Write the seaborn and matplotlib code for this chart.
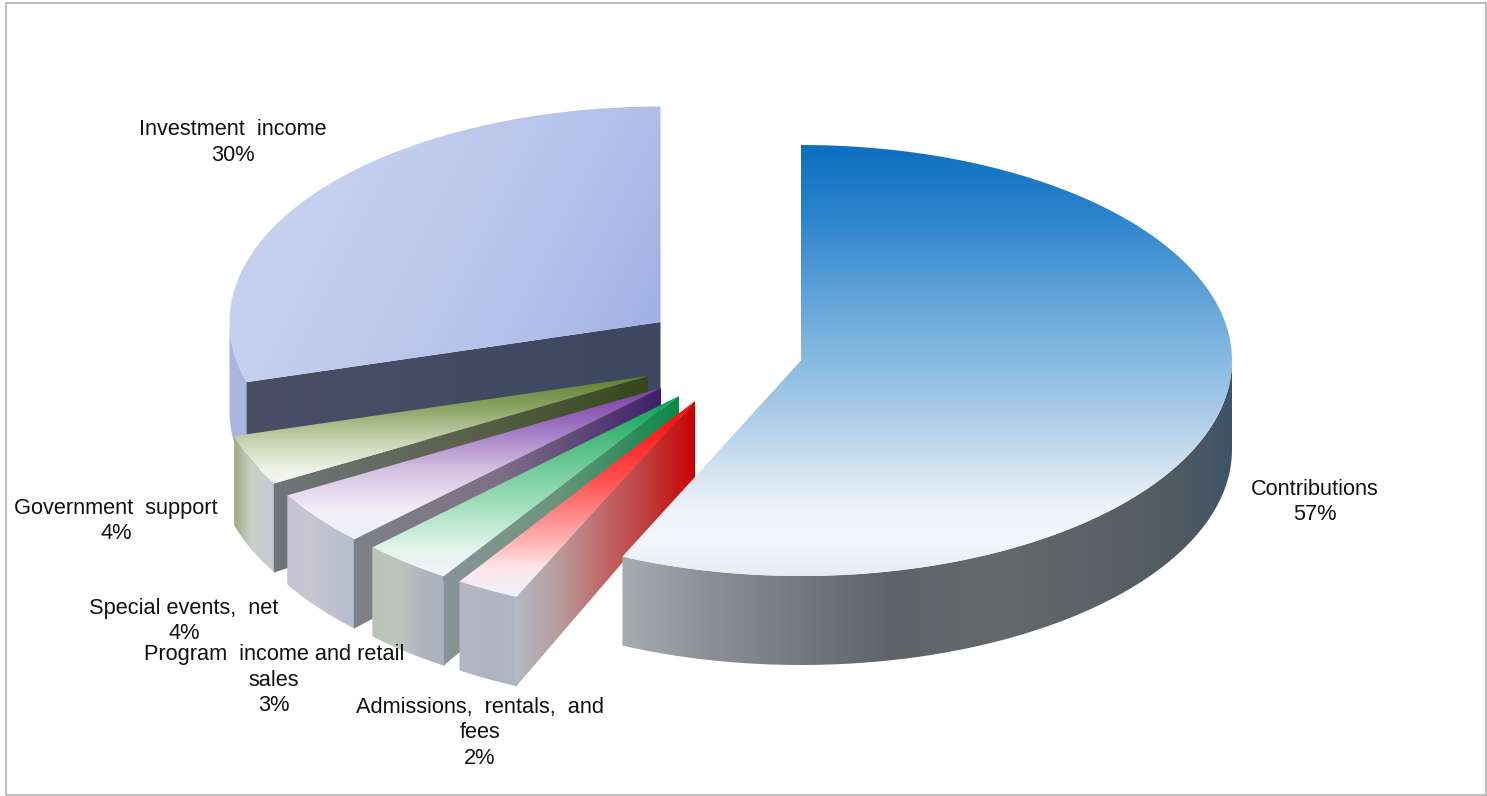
import numpy as np
import matplotlib
matplotlib.use("Agg")
import matplotlib.pyplot as plt
from matplotlib.path import Path
from matplotlib.patches import PathPatch, Rectangle
import seaborn as sns

categories = ["Contributions", "Admissions,  rentals,  and\nfees", "Program  income and retail\nsales",
              "Special events,  net", "Government  support", "Investment  income"]
shares = [56.8, 2.4, 3.4, 4.1, 3.8, 29.5]
shown_percent = [57, 2, 3, 4, 4, 30]

sns.set_theme(style="white")
plt.rcParams['font.family'] = ['Liberation Sans', 'DejaVu Sans']

W, H = 1487, 796
fig = plt.figure(figsize=(W / 100, H / 100), dpi=100)
ax = fig.add_axes([0, 0, 1, 1])

RX, RY = 431.0, 215.5
DEPTH, APEX_DEPTH = 89.0, 77.0

STYLE = {
    "Contributions": dict(
        centre=(801, 360.5),
        top=([145, 220, 300, 350, 420, 470, 510, 545, 576],
             ["#0B6FC0", "#2E86CC", "#62A5DA", "#82B7E0", "#AECEE9", "#D3E3F1", "#EEF3F8", "#F4F6FA", "#E6EBF6"]),
        side=([624, 700, 780, 890, 1000, 1100, 1180, 1232],
              ["#A6ABB0", "#8E9298", "#7A7D82", "#5F6468", "#66686B", "#5B6265", "#4F5A60", "#3E5468"]),
        cut=None, label=(1315, 502)),
    "Admissions,  rentals,  and\nfees": dict(
        centre=(695, 401),
        top=([401, 480, 540, 570, 597], ["#FF0000", "#FF5050", "#FFB0B0", "#FDE8EC", "#EEF0FA"]),
        side=([458, 490, 515], ["#B3B8C4", "#AEB4C0", "#B0B7C4"]),
        cut=([515, 560, 610, 650, 695], ["#B4BAC4", "#B89A9A", "#C26060", "#C03A3A", "#CC0000"]),
        label=(480, 733)),
    "Program  income and retail\nsales": dict(
        centre=(679, 396),
        top=([396, 440, 500, 550, 575], ["#00A050", "#4DBB80", "#9ADDB8", "#E4F5EC", "#F0F4FA"]),
        side=([369, 400, 420, 442], ["#BCC4B5", "#BEC5BE", "#B0B6BE", "#A9B2C0"]),
        cut=([442, 550, 679], ["#8A9499", "#6F9480", "#0A8A45"]),
        label=(274, 680)),
    "Special events,  net": dict(
        centre=(661, 388),
        top=([388, 420, 470, 510, 537], ["#7A3FA0", "#9668BC", "#D4C0E2", "#F3EEF6", "#EDF0F8"]),
        side=([288, 310, 330, 353], ["#C5C2D2", "#C9C6D4", "#BFC2CE", "#B5BED0"]),
        cut=([353, 500, 661], ["#7F8188", "#7E7086", "#3F1F6A"]),
        label=(184, 621)),
    "Government  support": dict(
        centre=(648, 376),
        top=([376, 410, 440, 470, 483], ["#5E7D2C", "#8FA768", "#C7D2AF", "#EFF2E6", "#F4F6F2"]),
        side=([236, 250, 276], ["#A5AD8D", "#CBCFC4", "#C4CAD6"]),
        cut=([276, 450, 648], ["#70757A", "#5D6350", "#35471A"]),
        label=(116, 521)),
    "Investment  income": dict(
        centre=(660.5, 322),
        top=([430, 600, 700, 810], ["#C4D0EE", "#BAC7EC", "#B2BFE9", "#A2B1E6"]),
        side=([230, 250, 300], ["#A9B6DF", "#A9B6DF", "#B4C0E6"]),
        cut=([248, 450, 660], ["#4A4F66", "#444B63", "#3E4660"]),
        label=(233, 142.5)),
}


def rim(centre, theta, drop=0.0):
    cx, cy = centre
    return cx + RX * np.sin(theta), cy - RY * np.cos(theta) + drop


def shade(verts, stops, mode):
    """Fill a polygon with a colour ramp built by seaborn."""
    verts = np.asarray(verts)
    cmap = sns.blend_palette(stops[1], n_colors=256, as_cmap=True)
    x0, y0 = np.floor(verts.min(axis=0)) - 1
    x1, y1 = np.ceil(verts.max(axis=0)) + 1
    xx, yy = np.meshgrid(np.arange(x0, x1 + 1), np.arange(y0, y1 + 1))
    coord = {"x": xx, "y": yy, "diag": xx + 0.5 * yy}[mode]
    field = np.interp(coord, stops[0], np.linspace(0, 1, len(stops[0])))
    im = ax.imshow(field, cmap=cmap, vmin=0, vmax=1, origin="upper",
                   extent=(x0 - .5, x1 + .5, y1 + .5, y0 - .5),
                   aspect="auto", interpolation="bilinear", zorder=next(order))
    patch = PathPatch(Path(np.vstack([verts, verts[:1]])), transform=ax.transData,
                      facecolor="none", edgecolor="none")
    ax.add_patch(patch)
    im.set_clip_path(patch)


order = iter(range(1, 200))

# angular extents come from the shares, clockwise from twelve o'clock
edges = np.radians(np.concatenate([[0], np.cumsum(shares)]) * 3.6)
spans = {c: (edges[i], edges[i + 1]) for i, c in enumerate(categories)}

for name in reversed(categories):      # back slices first, Contributions last
    st = STYLE[name]
    c = st["centre"]
    a, b = spans[name]
    # only the part of the rim facing the viewer gets a side wall
    front = np.linspace(max(a, np.pi / 2), min(b, 3 * np.pi / 2), 240)
    wall_up = np.column_stack(rim(c, front))
    wall_low = np.column_stack(rim(c, front, DEPTH))
    shade(np.vstack([wall_up, wall_low[::-1]]), st["side"], "x")
    if st["cut"] is not None:
        p = rim(c, a)
        p_low = rim(c, a, DEPTH)
        shade([c, p, p_low, (c[0], c[1] + APEX_DEPTH)], st["cut"], "x")
        ax.plot([p[0], p_low[0]], [p[1], p_low[1]], color=st["cut"][1][0], lw=1.0,
                solid_capstyle="butt", zorder=next(order))
    th = np.linspace(a, b, 360)
    mode = "diag" if name == "Investment  income" else "y"
    shade(np.vstack([[c], np.column_stack(rim(c, th))]), st["top"], mode)

for name, pct in zip(categories, shown_percent):
    lx, ly = STYLE[name]["label"]
    ax.text(lx, ly, f"{name}\n{pct}%", ha="center", va="center", multialignment="center",
            fontsize=15.7, color="#111111", linespacing=1.31, zorder=300)

ax.add_patch(Rectangle((5.5, 2.5), 1480, 792.5, facecolor="none", edgecolor="#A9A9A9",
                       linewidth=1.1, zorder=301))

ax.set_xlim(0, W)
ax.set_ylim(H, 0)
ax.axis("off")
fig.savefig("out.png", dpi=100, facecolor="white")
